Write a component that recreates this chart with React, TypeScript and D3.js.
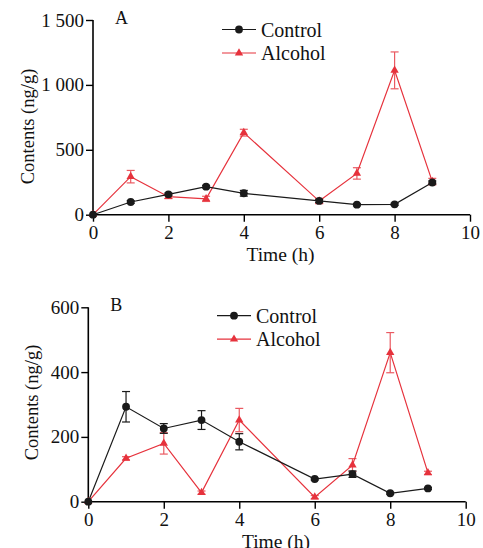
import { useEffect, useRef } from 'react';
import * as d3 from 'd3';

const times = [0, 1, 2, 3, 4, 6, 7, 8, 9];

const controlA = [0, 98, 157, 216, 165, 106, 77, 80, 248];
const controlAErr = [0, 10, 10, 10, 22, 12, 8, 8, 12];
const alcoholA = [0, 293, 139, 122, 632, 105, 318, 1112, 255];
const alcoholAErr = [0, 48, 15, 20, 26, 20, 44, 142, 25];

const controlB = [0, 293, 226, 252, 185, 70, 85, 26, 41];
const controlBErr = [0, 47, 15, 29, 25, 3, 10, 3, 3];
const alcoholB = [0, 134, 180, 28, 252, 14, 113, 460, 89];
const alcoholBErr = [0, 5, 33, 5, 36, 5, 20, 62, 5];

const ticksA = [0, 500, 1000, 1500];
const tickLabelsA = ['0', '500', '1 000', '1 500'];
const ticksB = [0, 200, 400, 600];
const tickLabelsB = ['0', '200', '400', '600'];
const xTicks = [0, 2, 4, 6, 8, 10];

const RED = '#e6323c';
const BLACK = '#1a1a1a';
const FONT = '"Liberation Serif", "Times New Roman", serif';

interface PanelOpts {
  top: number
  bottom: number
  left: number
  right: number
  yMax: number
  ticks: number[]
  tickLabels: string[]
  letter: string
  control: number[]
  controlErr: number[]
  alcohol: number[]
  alcoholErr: number[]
  legendX: number
  legendY: number
  titleX: number
  titleY: number
}

const App = (): JSX.Element => {
  const svgRef = useRef<SVGSVGElement>(null);

  useEffect(() => {
    const svg = d3.select(svgRef.current);
    svg.selectAll('*').remove();

    const drawPanel = (o: PanelOpts) => {
      const x = d3.scaleLinear().domain([0, 10]).range([o.left, o.right]);
      const y = d3.scaleLinear().domain([0, o.yMax]).range([o.bottom, o.top]);
      const g = svg.append('g');

      // axes
      const yAxis = g.append('g')
        .attr('transform', `translate(${o.left},0)`)
        .call(d3.axisLeft(y).tickValues(o.ticks).tickSize(7)
          .tickFormat((_d, i) => o.tickLabels[i]));
      const xAxis = g.append('g')
        .attr('transform', `translate(0,${o.bottom})`)
        .call(d3.axisBottom(x).tickValues(xTicks).tickSize(7).tickFormat(d3.format('d')));
      [yAxis, xAxis].forEach(ax => {
        ax.select('.domain').remove();
        ax.selectAll('.tick line').attr('stroke', '#000').attr('stroke-width', 1.4);
        ax.selectAll('.tick text')
          .attr('font-family', FONT).attr('font-size', 19).attr('fill', '#111');
      });
      g.append('line')
        .attr('x1', o.left).attr('x2', o.left)
        .attr('y1', o.top).attr('y2', o.bottom)
        .attr('stroke', '#000').attr('stroke-width', 1.6);
      g.append('line')
        .attr('x1', o.left).attr('x2', o.right)
        .attr('y1', o.bottom).attr('y2', o.bottom)
        .attr('stroke', '#000').attr('stroke-width', 1.6);
      yAxis.selectAll('.tick text').attr('x', -9);
      xAxis.selectAll('.tick text').attr('y', 11);

      // titles
      g.append('text')
        .attr('transform', `translate(${o.titleX},${o.titleY}) rotate(-90)`)
        .attr('text-anchor', 'middle')
        .attr('font-family', FONT).attr('font-size', 18.5).attr('fill', '#111')
        .text('Contents (ng/g)');
      g.append('text')
        .attr('x', (o.left + o.right) / 2 - 1).attr('y', o.bottom + 46)
        .attr('text-anchor', 'middle')
        .attr('font-family', FONT).attr('font-size', 19.5).attr('fill', '#111')
        .text('Time (h)');
      g.append('text')
        .attr('x', o.left + 22).attr('y', o.top + 4)
        .attr('font-family', FONT).attr('font-size', 18).attr('fill', '#111')
        .text(o.letter);

      const line = d3.line<number>().x((_d, i) => x(times[i])).y(d => y(d));
      const series = [
        { vals: o.alcohol, err: o.alcoholErr, color: RED, shape: 'tri' },
        { vals: o.control, err: o.controlErr, color: BLACK, shape: 'dot' },
      ];
      series.forEach(s => {
        g.append('path').datum(s.vals)
          .attr('d', line).attr('fill', 'none')
          .attr('stroke', s.color).attr('stroke-width', 1.2);
        s.vals.forEach((v, i) => {
          const e = s.err[i];
          if (e <= 0) return;
          const cx = x(times[i]);
          const lo = y(Math.max(0, v - e));
          const hi = y(v + e);
          const eb = g.append('g').attr('stroke', s.color).attr('stroke-width', 1.2)
            .attr('opacity', s.shape === 'tri' ? 0.8 : 1);
          eb.append('line').attr('x1', cx).attr('x2', cx).attr('y1', hi).attr('y2', lo);
          eb.append('line').attr('x1', cx - 4).attr('x2', cx + 4).attr('y1', hi).attr('y2', hi);
          eb.append('line').attr('x1', cx - 4).attr('x2', cx + 4).attr('y1', lo).attr('y2', lo);
        });
        g.selectAll(null).data(s.vals).enter().append('path')
          .attr('transform', (d, i) => `translate(${x(times[i])},${y(d)})`)
          .attr('d', d3.symbol(s.shape === 'tri' ? d3.symbolTriangle : d3.symbolCircle, s.shape === 'tri' ? 30 : 48)())
          .attr('fill', s.color);
      });

      // legend
      const leg = [
        { name: 'Control', color: BLACK, shape: 'dot' },
        { name: 'Alcohol', color: RED, shape: 'tri' },
      ];
      leg.forEach((l, i) => {
        const ly = o.legendY + i * 23.5;
        g.append('line').attr('x1', o.legendX).attr('x2', o.legendX + 34)
          .attr('y1', ly).attr('y2', ly).attr('stroke', l.color).attr('stroke-width', 1.2);
        g.append('path').attr('transform', `translate(${o.legendX + 17},${ly})`)
          .attr('d', d3.symbol(l.shape === 'tri' ? d3.symbolTriangle : d3.symbolCircle, l.shape === 'tri' ? 30 : 48)())
          .attr('fill', l.color);
        g.append('text').attr('x', o.legendX + 39).attr('y', ly + 7)
          .attr('font-family', FONT).attr('font-size', 20).attr('fill', '#111')
          .text(l.name);
      });
    };

    drawPanel({
      top: 20, bottom: 214.7, left: 93, right: 470, yMax: 1500,
      ticks: ticksA, tickLabels: tickLabelsA, letter: 'A',
      control: controlA, controlErr: controlAErr, alcohol: alcoholA, alcoholErr: alcoholAErr,
      legendX: 222, legendY: 29.5, titleX: 34, titleY: 126.5,
    });
    drawPanel({
      top: 307.3, bottom: 501.7, left: 88.3, right: 465.7, yMax: 600,
      ticks: ticksB, tickLabels: tickLabelsB, letter: 'B',
      control: controlB, controlErr: controlBErr, alcohol: alcoholB, alcoholErr: alcoholBErr,
      legendX: 217, legendY: 315.7, titleX: 37.5, titleY: 402.5,
    });
  }, []);

  return (
    <svg ref={svgRef} width={483} height={548}
      style={{ position: 'absolute', left: 0, top: 0, background: '#fff' }} />
  );
};

export default App;
